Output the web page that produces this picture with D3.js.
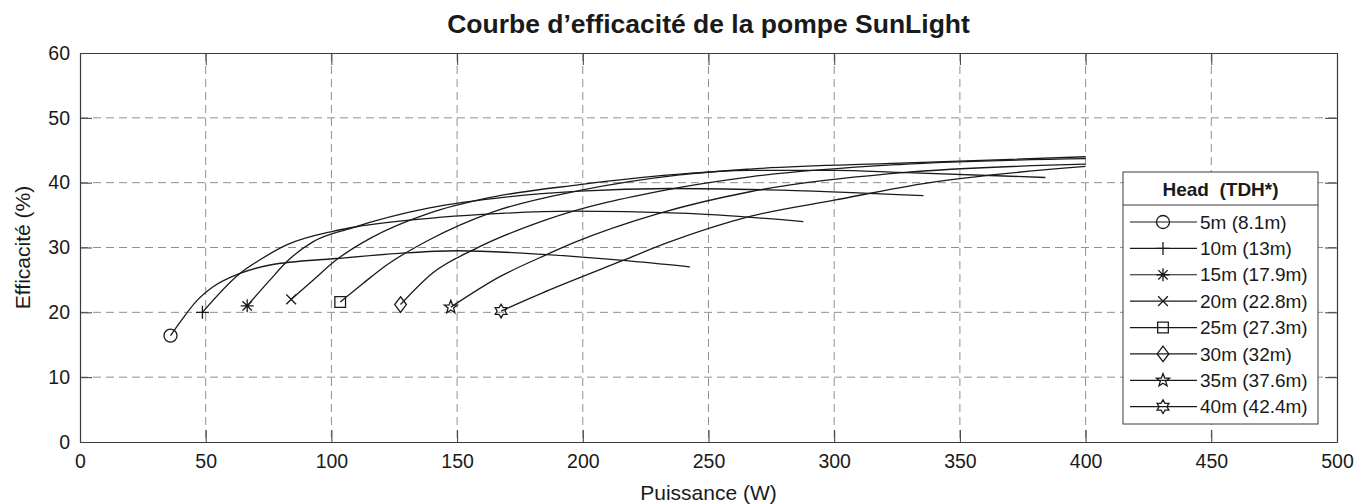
<!DOCTYPE html>
<html><head><meta charset="utf-8">
<script src="https://cdn.jsdelivr.net/npm/d3@7"></script>
<style>
body{margin:0;background:#fff;}
text{font-family:"Liberation Sans",Arial,Helvetica,sans-serif;fill:#1a1a1a;}
</style>
</head><body>
<svg id="chart" width="1370" height="504"></svg>
<script>
// ---- data ----
const chartTitle = "Courbe d’efficacité de la pompe SunLight";
const xLabel = "Puissance (W)";
const yLabel = "Efficacité (%)";
const legendTitle = "Head  (TDH*)";
const headLabels = ["5m (8.1m)","10m (13m)","15m (17.9m)","20m (22.8m)","25m (27.3m)","30m (32m)","35m (37.6m)","40m (42.4m)"];
const markerNames = ["circle","plus","asterisk","times","square","diamond","star","hexagram"];
const xTicks = [0,50,100,150,200,250,300,350,400,450,500];
const yTicks = [0,10,20,30,40,50,60];

const power5  = [36, 40.4, 46.5, 52.8, 63.6, 75.6, 102, 127, 150, 185.6, 216, 242.6];
const eff5    = [16.4, 18.8, 21.8, 23.9, 26.0, 27.3, 28.3, 29.1, 29.5, 28.9, 28.0, 27.0];
const power10 = [48.7, 63.6, 71.6, 82.2, 100.6, 110, 139, 160, 196, 238.7, 287.7];
const eff10   = [20.0, 26.0, 28.1, 30.4, 32.5, 33.2, 34.5, 35.1, 35.6, 35.3, 34.0];
const power15 = [66.5, 75.6, 82.2, 92.8, 108, 139, 170, 198.9, 234.7, 273, 335.5];
const eff15   = [21.0, 25.0, 27.8, 30.9, 33.0, 36.1, 37.8, 38.7, 39.1, 38.9, 38.0];
const power20 = [84, 92.8, 102, 115.4, 139, 161.8, 198.9, 234.7, 266.5, 300, 326, 384];
const eff20   = [22.0, 25.0, 28.1, 31.4, 35.3, 37.6, 39.7, 41.2, 41.9, 41.9, 41.6, 40.8];
const power25 = [103.5, 112.7, 122, 139, 164.4, 198.9, 238.6, 266.5, 326, 400];
const eff25   = [21.6, 24.5, 27.3, 31.2, 35.5, 38.8, 41.2, 42.1, 43.0, 44.0];
const power30 = [127.5, 140.4, 157.8, 185.6, 233.4, 266.5, 326, 400];
const eff30   = [21.2, 26.1, 29.9, 34.3, 38.9, 40.9, 42.8, 43.7];
const power35 = [147.5, 167, 185.6, 196.2, 230.7, 266.5, 326, 400];
const eff35   = [20.8, 25.5, 28.9, 30.7, 35.3, 38.6, 41.5, 42.85];
const power40 = [167.5, 187, 216, 233.4, 266.5, 300, 338, 400];
const eff40   = [20.2, 23.5, 28.0, 30.7, 34.8, 37.3, 40.0, 42.5];

const powers = [power5, power10, power15, power20, power25, power30, power35, power40];
const effs   = [eff5, eff10, eff15, eff20, eff25, eff30, eff35, eff40];

// ---- custom marker shapes (size = radius in px) ----
const markerTypes = {
  circle: {draw(c, r){ c.moveTo(r,0); c.arc(0,0,r,0,2*Math.PI); c.closePath(); }},
  plus:   {draw(c, r){ c.moveTo(0,-r); c.lineTo(0,r); c.moveTo(-r,0); c.lineTo(r,0); }},
  asterisk:{draw(c, r){ c.moveTo(0,-r); c.lineTo(0,r); c.moveTo(-r,0); c.lineTo(r,0);
                        const d=r*0.72; c.moveTo(-d,-d); c.lineTo(d,d); c.moveTo(-d,d); c.lineTo(d,-d); }},
  times:  {draw(c, r){ const d=r*0.75; c.moveTo(-d,-d); c.lineTo(d,d); c.moveTo(-d,d); c.lineTo(d,-d); }},
  square: {draw(c, r){ const d=r*0.82; c.moveTo(-d,-d); c.lineTo(d,-d); c.lineTo(d,d); c.lineTo(-d,d); c.closePath(); }},
  diamond:{draw(c, r){ const w=r*0.9, h=r*1.2; c.moveTo(0,-h); c.lineTo(w,0); c.lineTo(0,h); c.lineTo(-w,0); c.closePath(); }},
  star:   {draw(c, r){ const R=r*1.05, ri=R*0.42; for(let i=0;i<10;i++){ const a=-Math.PI/2+i*Math.PI/5; const rr=i%2?ri:R;
                        const px=rr*Math.cos(a), py=rr*Math.sin(a); i?c.lineTo(px,py):c.moveTo(px,py);} c.closePath(); }},
  hexagram:{draw(c, r){ const R=r*1.05, ri=R*0.58; for(let i=0;i<12;i++){ const a=-Math.PI/2+i*Math.PI/6; const rr=i%2?ri:R;
                        const px=rr*Math.cos(a), py=rr*Math.sin(a); i?c.lineTo(px,py):c.moveTo(px,py);} c.closePath(); }}
};

// ---- layout ----
const svg = d3.select("#chart");
const L=80, R=1337, T=53, B=442;
const x = d3.scaleLinear().domain([0,500]).range([L,R]);
const y = d3.scaleLinear().domain([0,60]).range([B,T]);
const ink = "#1a1a1a", axisCol = "#3a3a3a", gridCol = "#8f8f8f";

// grid
const grid = svg.append("g");
grid.selectAll("line.vx").data(xTicks.filter(v=>v>0&&v<500)).join("line")
  .attr("x1",d=>x(d)).attr("x2",d=>x(d)).attr("y1",T).attr("y2",B)
  .attr("stroke",gridCol).attr("stroke-width",1).attr("stroke-dasharray","8,5");
grid.selectAll("line.hy").data(yTicks.filter(v=>v>0&&v<60)).join("line")
  .attr("x1",L).attr("x2",R).attr("y1",d=>y(d)).attr("y2",d=>y(d))
  .attr("stroke",gridCol).attr("stroke-width",1).attr("stroke-dasharray","8,5");

// axes with inward ticks
const tickLen = 12;
const ax = (g)=>{ g.selectAll("path").attr("stroke",axisCol); g.selectAll("line").attr("stroke",axisCol); g.selectAll("text").attr("fill",ink); };
svg.append("g").attr("transform",`translate(0,${B})`)
  .call(d3.axisBottom(x).tickValues(xTicks).tickSizeInner(-tickLen).tickSizeOuter(0).tickPadding(8))
  .call(ax).call(g=>g.selectAll("text").attr("font-size","19.5px").attr("dy","0.9em"));
svg.append("g").attr("transform",`translate(0,${T})`)
  .call(d3.axisTop(x).tickValues(xTicks).tickSizeInner(-tickLen).tickSizeOuter(0).tickFormat(""))
  .call(ax);
svg.append("g").attr("transform",`translate(${L},0)`)
  .call(d3.axisLeft(y).tickValues(yTicks).tickSizeInner(-tickLen).tickSizeOuter(0).tickPadding(10))
  .call(ax).call(g=>g.selectAll("text").attr("font-size","19.5px"));
svg.append("g").attr("transform",`translate(${R},0)`)
  .call(d3.axisRight(y).tickValues(yTicks).tickSizeInner(-tickLen).tickSizeOuter(0).tickFormat(""))
  .call(ax);
svg.selectAll(".domain").attr("stroke",axisCol).attr("stroke-width",1.2);

// curves
const line = d3.line().x(d=>x(d[0])).y(d=>y(d[1])).curve(d3.curveMonotoneX);
const series = powers.map((p,i)=>({name:headLabels[i], marker:markerNames[i], pts:p.map((v,j)=>[v,effs[i][j]])}));
const gS = svg.append("g");
gS.selectAll("path.curve").data(series).join("path")
  .attr("d",d=>line(d.pts)).attr("fill","none").attr("stroke",ink).attr("stroke-width",1.3);
const markerSize = {circle:6.5, plus:6.5, asterisk:6.5, times:6.5, square:6.5, diamond:6.5, star:6.5, hexagram:6.5};
gS.selectAll("path.mk").data(series).join("path")
  .attr("transform",d=>`translate(${x(d.pts[0][0])},${y(d.pts[0][1])})`)
  .attr("d",d=>d3.symbol().type(markerTypes[d.marker]).size(markerSize[d.marker])())
  .attr("fill","none").attr("stroke",ink).attr("stroke-width",1.3);

// title & labels
svg.append("text").attr("x",(L+R)/2).attr("y",32.5).attr("text-anchor","middle")
  .attr("font-size","26.5px").attr("font-weight","bold").text(chartTitle);
svg.append("text").attr("x",(L+R)/2).attr("y",500).attr("text-anchor","middle")
  .attr("font-size","21px").text(xLabel);
svg.append("text").attr("transform",`translate(30,${(T+B)/2}) rotate(-90)`).attr("text-anchor","middle")
  .attr("font-size","21px").text(yLabel);

// legend
const lg = svg.append("g");
const lx0=1123, lx1=1318, ly0=172, ly1=424, lsep=205;
lg.append("rect").attr("x",lx0).attr("y",ly0).attr("width",lx1-lx0).attr("height",ly1-ly0)
  .attr("fill","#fff").attr("stroke",axisCol).attr("stroke-width",1);
lg.append("line").attr("x1",lx0).attr("x2",lx1).attr("y1",lsep).attr("y2",lsep).attr("stroke",axisCol).attr("stroke-width",1);
lg.append("text").attr("x",(lx0+lx1)/2).attr("y",196).attr("text-anchor","middle")
  .style("white-space","pre").attr("xml:space","preserve")
  .attr("font-size","19px").attr("font-weight","bold").text(legendTitle);
const rowY = d3.scaleLinear().domain([0,7]).range([222,406.7]);
const rows = lg.selectAll("g.row").data(series).join("g").attr("transform",(d,i)=>`translate(0,${rowY(i)})`);
rows.append("line").attr("x1",1130).attr("x2",1197).attr("y1",0).attr("y2",0).attr("stroke",ink).attr("stroke-width",1.2);
rows.append("path").attr("transform","translate(1163,0)")
  .attr("d",d=>d3.symbol().type(markerTypes[d.marker]).size(markerSize[d.marker])())
  .attr("fill","none").attr("stroke",ink).attr("stroke-width",1.3);
rows.append("text").attr("x",1200).attr("y",0).attr("dy","0.35em").attr("font-size","19px").text(d=>d.name);
</script>
</body></html>
